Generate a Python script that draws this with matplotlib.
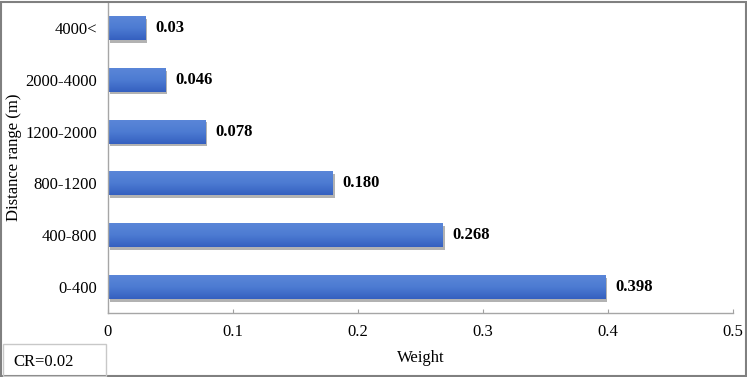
import matplotlib
matplotlib.use('Agg')
from matplotlib import pyplot as plt
from matplotlib.patches import Rectangle
from matplotlib.colors import LinearSegmentedColormap
import matplotlib.patheffects as pe
import numpy as np

categories = ['0-400', '400-800', '800-1200', '1200-2000', '2000-4000', '4000<']
weights = [0.398, 0.268, 0.180, 0.078, 0.046, 0.03]
value_labels = ['0.398', '0.268', '0.180', '0.078', '0.046', '0.03']
x_ticks = [0, 0.1, 0.2, 0.3, 0.4, 0.5]
x_tick_labels = ['0', '0.1', '0.2', '0.3', '0.4', '0.5']

plt.rcParams['font.family'] = ['Liberation Serif', 'DejaVu Serif']

W, H = 747, 377
fig = plt.figure(figsize=(W / 100, H / 100), dpi=100)
ax = fig.add_axes([108 / W, 1 - 313 / H, (733 - 108) / W, (313 - 2) / H])

bars = ax.barh(range(len(categories)), weights, height=0.46, color='#3f6bc8')
grad = LinearSegmentedColormap.from_list('g', ['#3560c0', '#4d7bd2', '#5a86d8'])
for b in bars:
    b.set_path_effects([pe.SimplePatchShadow(offset=(1.2, -2), shadow_rgbFace='#555555', alpha=0.45), pe.Normal()])
    x0, y0 = b.get_x(), b.get_y()
    im = ax.imshow(np.linspace(0, 1, 50).reshape(-1, 1), cmap=grad, aspect='auto', origin='lower',
                   extent=[x0, x0 + b.get_width(), y0, y0 + b.get_height()], zorder=b.get_zorder() + 0.1)
    im.set_clip_path(b)

for i, (w, lab) in enumerate(zip(weights, value_labels)):
    ax.annotate(lab, (w, i), xytext=(7, 0), textcoords='offset points',
                va='center', ha='left', fontsize=12, fontweight='bold')

ax.set_xlim(0, 0.5)
ax.set_ylim(-0.5, len(categories) - 0.5)
ax.set_yticks(range(len(categories)))
ax.set_yticklabels(categories, fontsize=12)
ax.set_xticks(x_ticks)
ax.set_xticklabels(x_tick_labels, fontsize=12)
ax.tick_params(axis='y', length=0, pad=8)
ax.tick_params(axis='x', direction='in', length=3, color='#a0a0a0', pad=8)

for s in ['top', 'right']:
    ax.spines[s].set_visible(False)
for s in ['left', 'bottom']:
    ax.spines[s].set_color('#a6a6a6')
    ax.spines[s].set_linewidth(1)

ax.set_xlabel('Weight', fontsize=12, labelpad=7)
fig.text(14 / W, 1 - 157 / H, 'Distance range (m)', fontsize=12, rotation=90, va='center', ha='center')

# figure border
fig.patches.append(Rectangle((1.5 / W, 1.5 / H), (W - 3) / W, (H - 3) / H, transform=fig.transFigure,
                             fill=False, edgecolor='#808080', linewidth=1.5))
# CR box
fig.patches.append(Rectangle((3 / W, 1.5 / H), (106 - 3) / W, (377 - 345) / H, transform=fig.transFigure,
                             fill=False, edgecolor='#c8c8c8', linewidth=1))
fig.text(13 / W, 1 - 362 / H, 'CR=0.02', fontsize=12, va='center', ha='left')

fig.savefig('out.png', dpi=100)
